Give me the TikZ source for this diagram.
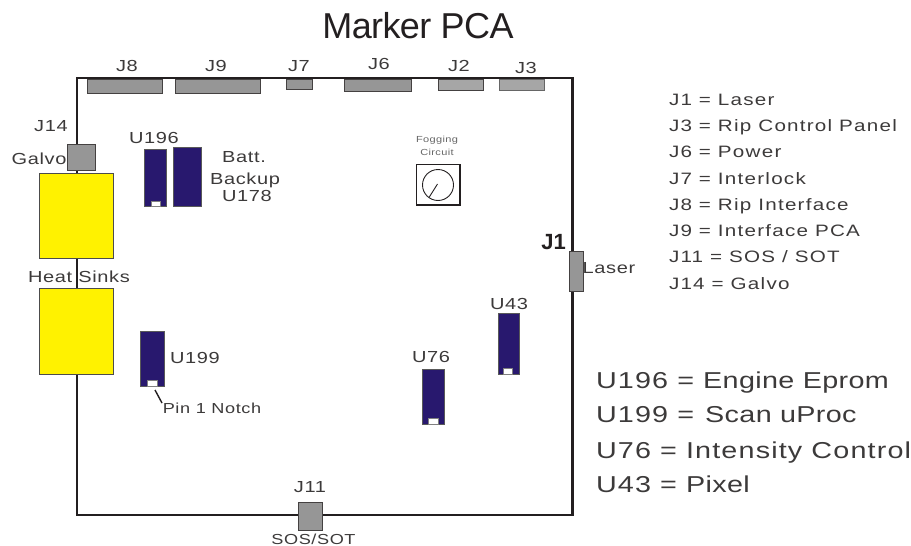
\documentclass[tikz,border=0pt]{standalone}
\usepackage{fontspec}
\setmainfont[FakeStretch=1.25,LetterSpace=4]{Liberation Sans}
\newfontfamily\keyfont[FakeStretch=1.25,LetterSpace=7.5]{Liberation Sans}
\newfontfamily\bigfont[FakeStretch=1.25,LetterSpace=5]{Liberation Sans}
\newfontfamily\tightfont[FakeStretch=1.25,LetterSpace=1.5]{Liberation Sans}
\newfontfamily\titlefont[LetterSpace=-1.7]{Liberation Sans}
\newfontfamily\boldfont{Liberation Sans}
\definecolor{chipblue}{RGB}{40,24,110}
\definecolor{conngray}{RGB}{150,150,150}
\definecolor{heatyellow}{RGB}{255,242,0}
\definecolor{ink}{RGB}{35,31,32}
\definecolor{txt}{RGB}{60,58,58}
\tikzset{
  x=1pt,y=-1pt,
  every node/.style={inner sep=0pt,outer sep=0pt,text=txt},
  board/.style={draw=ink,line width=2.6pt},
  conn/.style={draw=ink!85,line width=.8pt,fill=conngray},
  chip/.style={draw=black!65,line width=.6pt,fill=chipblue},
  notch/.style={draw=black!50,line width=.4pt,fill=white},
  sink/.style={draw=black!70,line width=.7pt,fill=heatyellow},
  lbl/.style={font=\fontsize{16}{16}\selectfont,anchor=base},
  small/.style={font=\fontsize{14.5}{14.5}\selectfont,anchor=base},
  fog/.style={font=\fontsize{8.8}{8.8}\selectfont,anchor=base,text=black!60},
  key/.style={font=\keyfont\fontsize{16.5}{16.5}\selectfont,anchor=base west},
  bigkey/.style={font=\bigfont\fontsize{23}{23}\selectfont,anchor=base west},
}
\newcommand{\tightwords}[1]{{\tightfont\fontsize{23}{23}\selectfont #1}}
\begin{document}
\begin{tikzpicture}
\useasboundingbox (0,0) rectangle (911,546);
\node[anchor=base,text=ink,font=\titlefont\fontsize{36}{36}\selectfont] (title) at (418,38.5) {Marker PCA};
\draw[board] (77,78) rectangle (572.5,515);
% connectors on the top edge
\path[conn] (87,79) rectangle (162,93);
\path[conn] (175,79) rectangle (260,93);
\path[conn] (286,79) rectangle (312,89);
\path[conn] (344,79) rectangle (411,91);
\path[conn,fill=conngray!85] (438,79) rectangle (483,90.5);
\path[conn,fill=conngray!85,draw=black!60] (499,79) rectangle (544,90.5);
\path[conn] (67,144) rectangle (95,170.5);
\path[conn] (569.5,251) rectangle (583,291);
\path[conn] (298.3,502) rectangle (322,530.5);
% heat sinks
\path[sink] (39.5,173.5) rectangle (113.5,258.5);
\path[sink] (39.5,288.5) rectangle (113.5,374);
% chips
\path[chip] (144.5,149.5) rectangle (166,206.5);
\path[notch] (151,201) rectangle (160,206);
\path[chip] (173.5,147.5) rectangle (201,206.5);
\path[chip] (140,331) rectangle (164,386.5);
\path[notch] (147,380.5) rectangle (157,386);
\path[chip] (498,313) rectangle (519,374);
\path[notch] (503.5,368) rectangle (512.5,374);
\path[chip] (422.5,369) rectangle (444,424);
\path[notch] (428.5,418) rectangle (438,424);
\draw[ink,line width=1.4pt] (155,390) -- (162,403);
% fogging circuit
\draw[ink,line width=1.5pt] (416.5,164.5) rectangle (460,205);
\draw[ink,line width=.9pt] (438,185) circle[radius=15.5];
\draw[ink,line width=.9pt] (437.5,184) -- (429,197.5);
\node[fog] (fog1) at (437,142) {Fogging};
\node[fog] (fog2) at (437,155) {Circuit};
% connector labels
\node[lbl] (j8) at (127,71) {J8};
\node[lbl] (j9) at (216,71) {J9};
\node[lbl] (j7) at (299,71) {J7};
\node[lbl] (j6) at (379,69.5) {J6};
\node[lbl] (j2) at (459,71) {J2};
\node[lbl] (j3) at (526,73) {J3};
\node[lbl] (j14) at (51,131) {J14};
\node[lbl] (galvo) at (39,164) {Galvo};
\node[lbl] (u196) at (154,143) {U196};
\node[lbl] (batt) at (244,162) {Batt.};
\node[lbl] (backup) at (245,184) {Backup};
\node[lbl] (u178) at (247,201) {U178};
\node[lbl] (heat) at (79,282) {Heat Sinks};
\node[lbl] (u199) at (195,363) {U199};
\node[small] (pin) at (212,413) {Pin 1 Notch};
\node[lbl] (u43) at (509,309) {U43};
\node[lbl] (u76) at (431,362) {U76};
\node[anchor=base,text=ink,font=\boldfont\bfseries\fontsize{22}{22}\selectfont] (j1) at (553.5,249) {J1};
\node[lbl] (laser) at (609,273) {Laser};
\node[lbl] (j11) at (310,492) {J11};
\node[small] (sos) at (313.5,544) {SOS/SOT};
% legends
\node[key] (k1) at (669,105) {J1 = Laser};
\node[key] (k2) at (669,131) {J3 = Rip Control Panel};
\node[key] (k3) at (669,157.5) {J6 = Power};
\node[key] (k4) at (669,184) {J7 = Interlock};
\node[key] (k5) at (669,210) {J8 = Rip Interface};
\node[key] (k6) at (669,236) {J9 = Interface PCA};
\node[key] (k7) at (669,262) {J11 = SOS / SOT};
\node[key] (k8) at (669,289) {J14 = Galvo};
\node[bigkey] (b1) at (596,388) {U196 = \tightwords{Engine Eprom}};
\node[bigkey] (b2) at (596,422) {U199 = \hspace{2pt}\tightwords{Scan uProc}};
\node[bigkey] (b3) at (596,458) {U76 = Intensity Control};
\node[bigkey] (b4) at (596,492.5) {U43 = \tightwords{Pixel}};
\end{tikzpicture}
\end{document}
